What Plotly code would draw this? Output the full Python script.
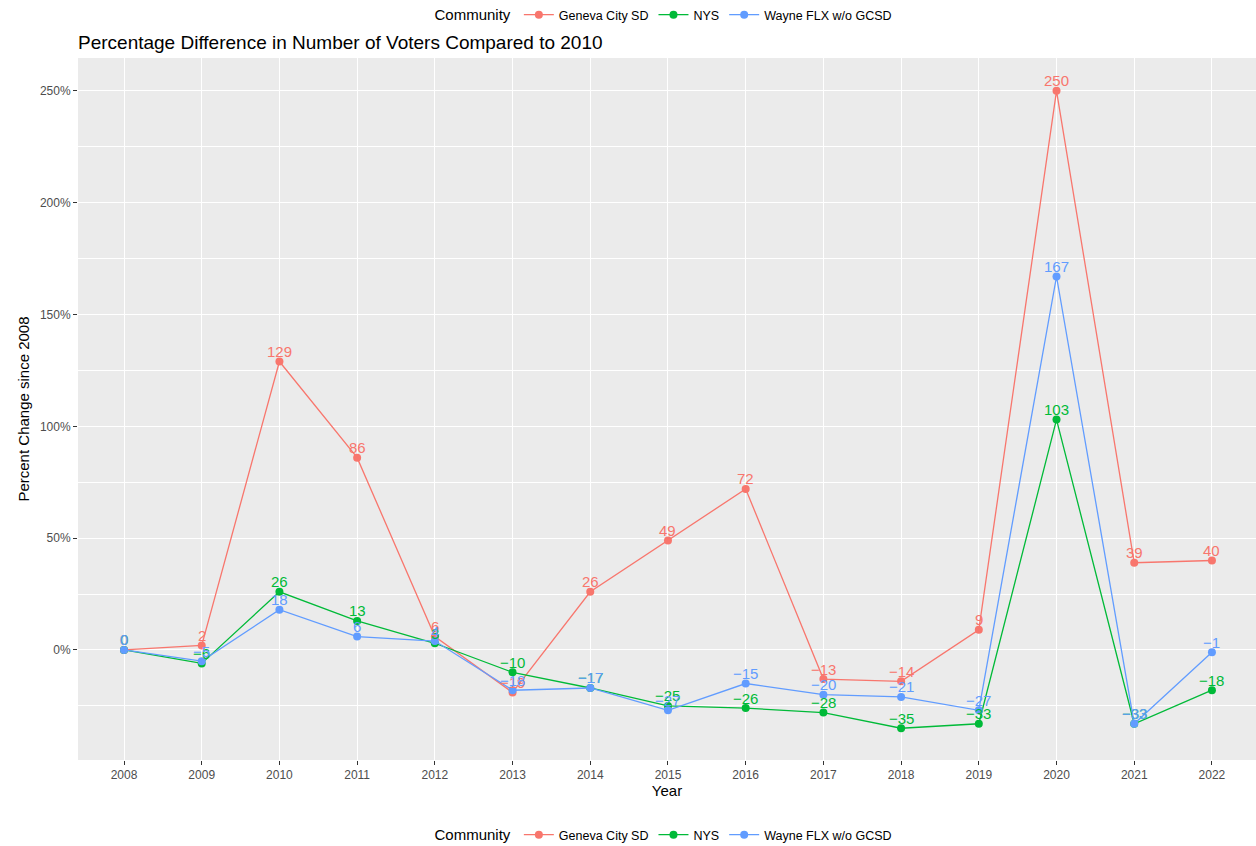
import plotly.graph_objects as go

years = [2008, 2009, 2010, 2011, 2012, 2013, 2014, 2015, 2016, 2017, 2018, 2019, 2020, 2021, 2022]
geneva = [0, 2, 129, 86, 6, -19, 26, 49, 72, -13, -14, 9, 250, 39, 40]
nys = [0, -6, 26, 13, 3, -10, -17, -25, -26, -28, -35, -33, 103, -33, -18]
wayne = [0, -5, 18, 6, 4, -18, -17, -27, -15, -20, -21, -27, 167, -33, -1]

series_names = ["Geneva City SD", "NYS", "Wayne FLX w/o GCSD"]
series_values = [geneva, nys, wayne]
colors = ["#F8766D", "#00BA38", "#619CFF"]

y_ticks = [0, 50, 100, 150, 200, 250]
y_tick_labels = ["0%", "50%", "100%", "150%", "200%", "250%"]

FONT = "Liberation Sans, Arial, sans-serif"


def lab(v):
    return f"{v:.0f}".replace("-", "\u2212")


fig = go.Figure()
for name, vals, col in zip(series_names, series_values, colors):
    fig.add_trace(go.Scatter(
        x=years, y=vals, name=name, mode="lines+markers",
        line=dict(color=col, width=1.3), marker=dict(color=col, size=8),
        legend="legend", hoverinfo="skip", cliponaxis=False,
    ))
    for x, v in zip(years, vals):
        fig.add_annotation(x=x, y=v, text=lab(v), showarrow=False,
                           yshift=10, yanchor="middle", xanchor="center",
                           font=dict(color=col, size=15, family=FONT))
for name, col in zip(series_names, colors):
    fig.add_trace(go.Scatter(
        x=[None], y=[None], name=name, mode="lines+markers",
        line=dict(color=col, width=1.3), marker=dict(color=col, size=8),
        legend="legend2", showlegend=True, hoverinfo="skip",
    ))

legend_common = dict(
    orientation="h", xanchor="center", yanchor="middle",
    title=dict(text="Community", font=dict(size=15, color="black", family=FONT)),
    font=dict(size=12.5, color="black", family=FONT),
    bgcolor="rgba(0,0,0,0)", itemwidth=30,
)

fig.update_layout(
    width=1256, height=846,
    margin=dict(l=78, r=0, t=58, b=86, autoexpand=False),
    paper_bgcolor="white", plot_bgcolor="#EBEBEB",
    font=dict(family=FONT),
    title=dict(text="Percentage Difference in Number of Voters Compared to 2010",
               x=78 / 1256, xanchor="left", y=1 - 42 / 846, yanchor="middle",
               font=dict(size=19, color="black", family=FONT)),
    legend=dict(x=(665 - 78) / 1178, y=1 + (58 - 15) / 702, **legend_common),
    legend2=dict(x=(665 - 78) / 1178, y=-(835 - 760) / 702, **legend_common),
    xaxis=dict(
        range=[2007.408, 2022.567], tickvals=years, ticktext=[str(y) for y in years],
        showgrid=True, gridcolor="white", gridwidth=1.3, zeroline=False,
        ticks="outside", ticklen=4, tickcolor="#333333",
        tickfont=dict(size=12, color="#4D4D4D", family=FONT),
        title=dict(text="Year", font=dict(size=15, color="black", family=FONT), standoff=4),
        showline=False, automargin=False,
    ),
    yaxis=dict(
        range=[-49.2, 264.7], tickvals=y_ticks, ticktext=y_tick_labels,
        showgrid=True, gridcolor="white", gridwidth=1.3, zeroline=False,
        minor=dict(tickvals=[-25, 25, 75, 125, 175, 225], showgrid=True,
                   gridcolor="white", gridwidth=0.6, ticks=""),
        ticks="outside", ticklen=4, tickcolor="#333333",
        tickfont=dict(size=12, color="#4D4D4D", family=FONT),
        title=dict(text="Percent Change since 2008", font=dict(size=15, color="black", family=FONT), standoff=6),
        showline=False, automargin=False,
    ),
)

fig.write_html("out.html", config={"displayModeBar": False},
               post_script="document.body.style.margin='0';document.body.style.overflow='hidden';")
